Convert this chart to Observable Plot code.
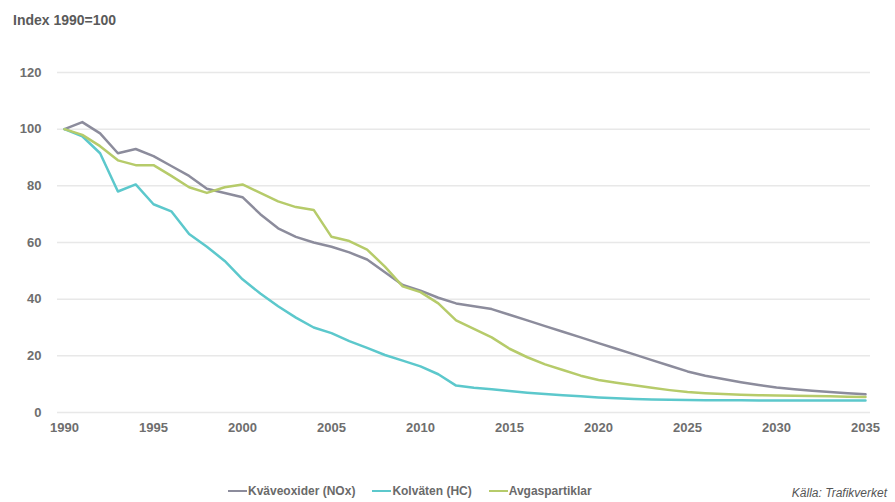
<!DOCTYPE html>
<html>
<head>
<meta charset="utf-8">
<script src="https://cdn.jsdelivr.net/npm/d3@7"></script>
<script src="https://cdn.jsdelivr.net/npm/@observablehq/plot@0.6"></script>
<style>
  html, body { margin: 0; padding: 0; background: #fff; }
  body { width: 895px; height: 502px; position: relative; overflow: hidden; font-family: "Liberation Sans", Arial, sans-serif; }
  #title { position: absolute; left: 13px; top: 12px; font-size: 14px; font-weight: bold; color: #5a5a5a; white-space: nowrap; }
  #chart { position: absolute; left: 0; top: 0; }
  #legend { position: absolute; left: 228px; top: 484px; display: flex; gap: 0; font-size: 12px; font-weight: bold; color: #6a6a6a; white-space: nowrap; }
  .item { display: flex; align-items: center; margin-right: 17px; }
  .sw { width: 19px; height: 2.5px; margin-right: 1px; }
  #source { position: absolute; right: 8px; top: 486px; font-size: 12px; line-height: 14px; font-style: italic; color: #555; white-space: nowrap; }
</style>
</head>
<body>
<div id="title">Index 1990=100</div>
<div id="chart"></div>
<div id="legend"></div>
<div id="source">Källa: Trafikverket</div>
<script>
const years = d3.range(1990, 2036);
const seriesNames = ["Kväveoxider (NOx)", "Kolväten (HC)", "Avgaspartiklar"];
const seriesColors = ["#8c8c9c", "#5cc8cc", "#b6cb6a"];
const nox = [100, 102.5, 98.5, 91.5, 93, 90.5, 87, 83.5, 79, 77.5,
  76, 70, 65, 62, 60, 58.5, 56.5, 54, 49.5, 45,
  43, 40.5, 38.5, 37.5, 36.5, 34.5, 32.5, 30.5, 28.5, 26.5,
  24.5, 22.5, 20.5, 18.5, 16.5, 14.5, 13, 11.8, 10.7, 9.7,
  8.8, 8.2, 7.7, 7.2, 6.8, 6.4];
const hc = [100, 97.5, 91.5, 78, 80.5, 73.5, 71, 63, 58.5, 53.5,
  47, 42, 37.5, 33.5, 30, 28, 25.2, 22.8, 20.3, 18.3,
  16.3, 13.5, 9.5, 8.7, 8.2, 7.6, 7, 6.5, 6.1, 5.7,
  5.3, 5.0, 4.8, 4.6, 4.5, 4.4, 4.35, 4.3, 4.3, 4.25,
  4.25, 4.2, 4.2, 4.2, 4.2, 4.2];
const pm = [100, 98, 94, 89, 87.3, 87.3, 83.5, 79.5, 77.5, 79.5,
  80.5, 77.5, 74.5, 72.5, 71.5, 62, 60.5, 57.5, 51.5, 44.5,
  42.5, 38.5, 32.5, 29.5, 26.5, 22.5, 19.5, 17, 15, 13,
  11.5, 10.5, 9.6, 8.7, 7.9, 7.2, 6.8, 6.5, 6.3, 6.1,
  6.0, 5.9, 5.8, 5.7, 5.6, 5.5];
const yTicks = [0, 20, 40, 60, 80, 100, 120];
const xTicks = [1990, 1995, 2000, 2005, 2010, 2015, 2020, 2025, 2030, 2035];

const allValues = [nox, hc, pm];
const data = [];
allValues.forEach((vals, si) => {
  vals.forEach((v, i) => data.push({year: years[i], value: v, series: seriesNames[si]}));
});

const chart = Plot.plot({
  width: 895,
  height: 440,
  marginLeft: 57,
  marginRight: 25,
  marginTop: 72,
  marginBottom: 28,
  style: {fontFamily: "'Liberation Sans', Arial, sans-serif", fontSize: "13px", fontWeight: "bold", color: "#6e6e6e", background: "transparent"},
  x: {domain: [1990, 2035], insetLeft: 7, insetRight: 5},
  y: {domain: [0, 120]},
  color: {domain: seriesNames, range: seriesColors},
  marks: [
    Plot.ruleY(yTicks, {stroke: "#e8e8e8", strokeWidth: 1.5}),
    Plot.axisY(yTicks, {tickSize: 0, tickPadding: 16, label: null, fill: "#6e6e6e"}),
    Plot.axisX(xTicks, {tickSize: 0, tickPadding: 10, label: null, tickFormat: d => String(d), fill: "#6e6e6e"}),
    Plot.line(data, {x: "year", y: "value", z: "series", stroke: "series", strokeWidth: 2.5, curve: "linear"})
  ]
});
document.getElementById("chart").appendChild(chart);

const legend = document.getElementById("legend");
seriesNames.forEach((name, i) => {
  const item = document.createElement("div");
  item.className = "item";
  const sw = document.createElement("div");
  sw.className = "sw";
  sw.style.background = seriesColors[i];
  const t = document.createElement("span");
  t.textContent = name;
  item.appendChild(sw);
  item.appendChild(t);
  legend.appendChild(item);
});
</script>
</body>
</html>
